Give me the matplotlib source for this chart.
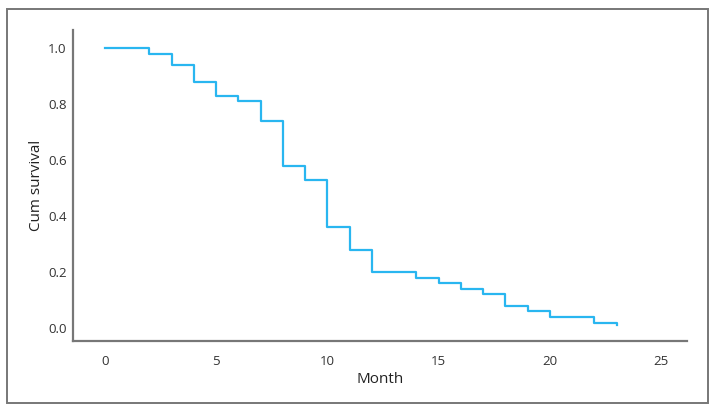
import matplotlib
matplotlib.use("Agg")
import matplotlib.pyplot as plt
from matplotlib.patches import Rectangle

# Kaplan-Meier steps
months = [0, 2, 3, 4, 5, 6, 7, 8, 9, 10, 11, 12, 14, 15, 16, 17, 18, 19, 20, 22, 23]
survival = [1.0, 0.98, 0.94, 0.88, 0.83, 0.81, 0.74, 0.58, 0.53, 0.36, 0.28, 0.20,
            0.18, 0.16, 0.14, 0.12, 0.08, 0.06, 0.04, 0.02, 0.01]
x_ticks = [0, 5, 10, 15, 20, 25]
y_ticks = [0.0, 0.2, 0.4, 0.6, 0.8, 1.0]

plt.rcParams['font.family'] = ['Open Sans', 'DejaVu Sans']

fig = plt.figure(figsize=(7.14, 4.11), dpi=100)
ax = fig.add_axes([73 / 714, 70 / 411, 614 / 714, 311 / 411])

ax.step(months, survival, where='post', color='#29b6f0', linewidth=1.6)

ax.set_xlim(-1.44, 26.17)
ax.set_ylim(-0.046, 1.064)
ax.set_xticks(x_ticks)
ax.set_yticks(y_ticks)
ax.set_yticklabels([f"{v:.1f}" for v in y_ticks])
ax.tick_params(length=0, labelsize=9.5, colors='#333333')
ax.tick_params(axis='x', pad=10)
ax.tick_params(axis='y', pad=4.5)

for side in ['top', 'right']:
    ax.spines[side].set_visible(False)
for side in ['left', 'bottom']:
    ax.spines[side].set_color('#777777')
    ax.spines[side].set_linewidth(1.6)

ax.set_xlabel('Month', fontsize=11, color='#222222', labelpad=3)
ax.set_ylabel('Cum survival', fontsize=11, color='#222222', labelpad=3)

# outer frame around the whole chart
fig.patches.append(Rectangle((7 / 714, 8 / 411), 701 / 714, 394 / 411,
                             transform=fig.transFigure, fill=False,
                             edgecolor='#777777', linewidth=1.4))

fig.savefig('out.png', dpi=100)
